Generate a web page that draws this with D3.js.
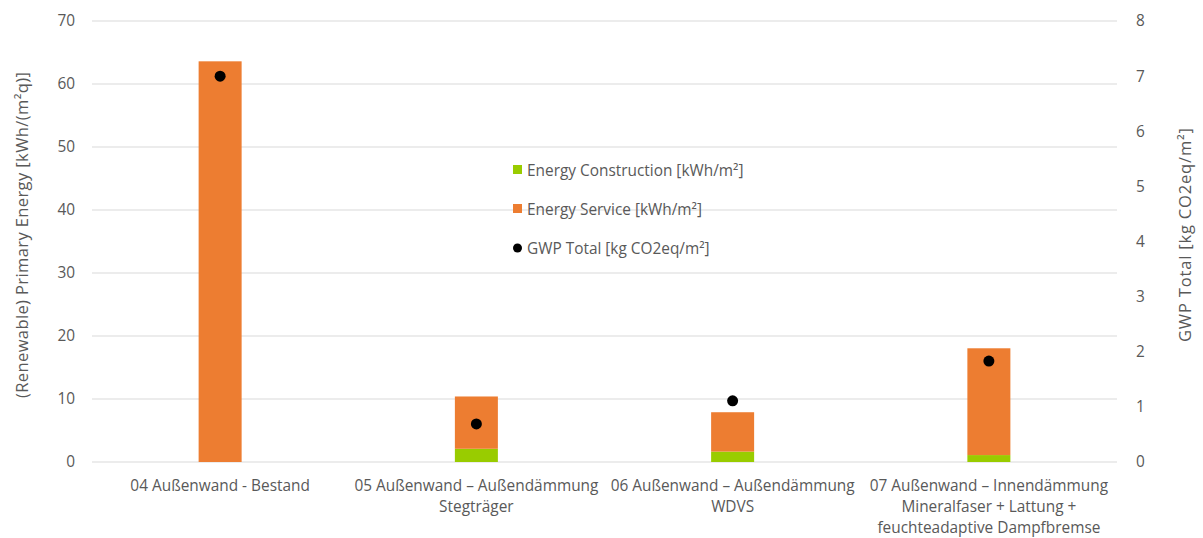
<!DOCTYPE html>
<html><head><meta charset="utf-8">
<script src="https://cdn.jsdelivr.net/npm/d3@7"></script>
<style>body{margin:0;background:#fff;}svg{display:block;font-family:"Open Sans",sans-serif;}</style>
</head><body>
<svg id="c" width="1203" height="538"></svg>
<script>
const categories = [
  ["04 Außenwand - Bestand"],
  ["05 Außenwand – Außendämmung", "Stegträger"],
  ["06 Außenwand – Außendämmung", "WDVS"],
  ["07 Außenwand – Innendämmung", "Mineralfaser + Lattung +", "feuchteadaptive Dampfbremse"]
];
const energyConstruction = [0, 2.1, 1.65, 1.1];
const energyService = [63.6, 8.3, 6.25, 16.95];
const gwpTotal = [7.0, 0.69, 1.11, 1.83];
const leftTicks = [0, 10, 20, 30, 40, 50, 60, 70];
const rightTicks = [0, 1, 2, 3, 4, 5, 6, 7, 8];
const seriesNames = ["Energy Construction [kWh/m²]", "Energy Service [kWh/m²]", "GWP Total [kg CO2eq/m²]"];
const colors = ["#99CC00", "#ED7D31", "#000000"];

const FS = "15.4px";
const svg = d3.select("#c");
const L = 92, R = 1117, T = 21, B = 462;
const y = d3.scaleLinear().domain([0, 70]).range([B, T]);
const y2 = d3.scaleLinear().domain([0, 8]).range([B, T]);
const bw = 43;
const cx = i => L + (R - L) / categories.length * (i + 0.5);

// grid
svg.append("g").selectAll("line").data(leftTicks).join("line")
  .attr("x1", L).attr("x2", R).attr("y1", d => y(d)).attr("y2", d => y(d))
  .attr("stroke", "#d9d9d9").attr("stroke-width", 1);

// left axis
const la = svg.append("g").attr("transform", `translate(${L},0)`)
  .call(d3.axisLeft(y).tickValues(leftTicks).tickSize(0).tickPadding(17));
la.select(".domain").remove();
la.selectAll("text").attr("fill", "#595959").style("font-size", FS).style("font-family", "Open Sans");

// right axis
const ra = svg.append("g").attr("transform", `translate(${R},0)`)
  .call(d3.axisRight(y2).tickValues(rightTicks).tickSize(0).tickPadding(19));
ra.select(".domain").remove();
ra.selectAll("text").attr("fill", "#595959").style("font-size", FS).style("font-family", "Open Sans");

// bars
const g = svg.append("g");
g.selectAll("rect.c").data(energyConstruction).join("rect").attr("class", "c")
  .attr("x", (d, i) => cx(i) - bw / 2).attr("width", bw)
  .attr("y", d => y(d)).attr("height", d => y(0) - y(d))
  .attr("fill", colors[0]);
g.selectAll("rect.s").data(energyService).join("rect").attr("class", "s")
  .attr("x", (d, i) => cx(i) - bw / 2).attr("width", bw)
  .attr("y", (d, i) => y(d + energyConstruction[i])).attr("height", (d, i) => y(energyConstruction[i]) - y(d + energyConstruction[i]))
  .attr("fill", colors[1]);
g.selectAll("circle").data(gwpTotal).join("circle")
  .attr("cx", (d, i) => cx(i)).attr("cy", d => y2(d)).attr("r", 5.5).attr("fill", colors[2]);

// x labels
const xl = svg.append("g");
categories.forEach((lines, i) => {
  const t = xl.append("text").attr("x", cx(i)).attr("y", 491).attr("text-anchor", "middle")
    .attr("fill", "#595959").style("font-size", FS);
  lines.forEach((ln, j) => t.append("tspan").attr("x", cx(i)).attr("dy", j === 0 ? 0 : 21).text(ln));
});

// axis titles
svg.append("text").attr("transform", "translate(28,235) rotate(-90)").attr("text-anchor", "middle")
  .attr("fill", "#595959").style("font-size", "16.5px")
  .attr("textLength", 326).attr("lengthAdjust", "spacing")
  .text("(Renewable) Primary Energy [kWh/(m²q)]");
svg.append("text").attr("transform", "translate(1191,235) rotate(-90)").attr("text-anchor", "middle")
  .attr("fill", "#595959").style("font-size", "16.5px")
  .attr("textLength", 214).attr("lengthAdjust", "spacing")
  .text("GWP Total [kg CO2eq/m²]");

// legend
const lg = svg.append("g");
seriesNames.forEach((n, i) => {
  const yy = 170 + i * 39;
  if (i < 2) lg.append("rect").attr("x", 513).attr("y", yy - 5).attr("width", 9).attr("height", 9).attr("fill", colors[i]);
  else lg.append("circle").attr("cx", 517.5).attr("cy", yy).attr("r", 4.5).attr("fill", colors[i]);
  lg.append("text").attr("x", 527).attr("y", yy + 5.5).attr("fill", "#595959").style("font-size", FS).text(n);
});
</script>
</body></html>
